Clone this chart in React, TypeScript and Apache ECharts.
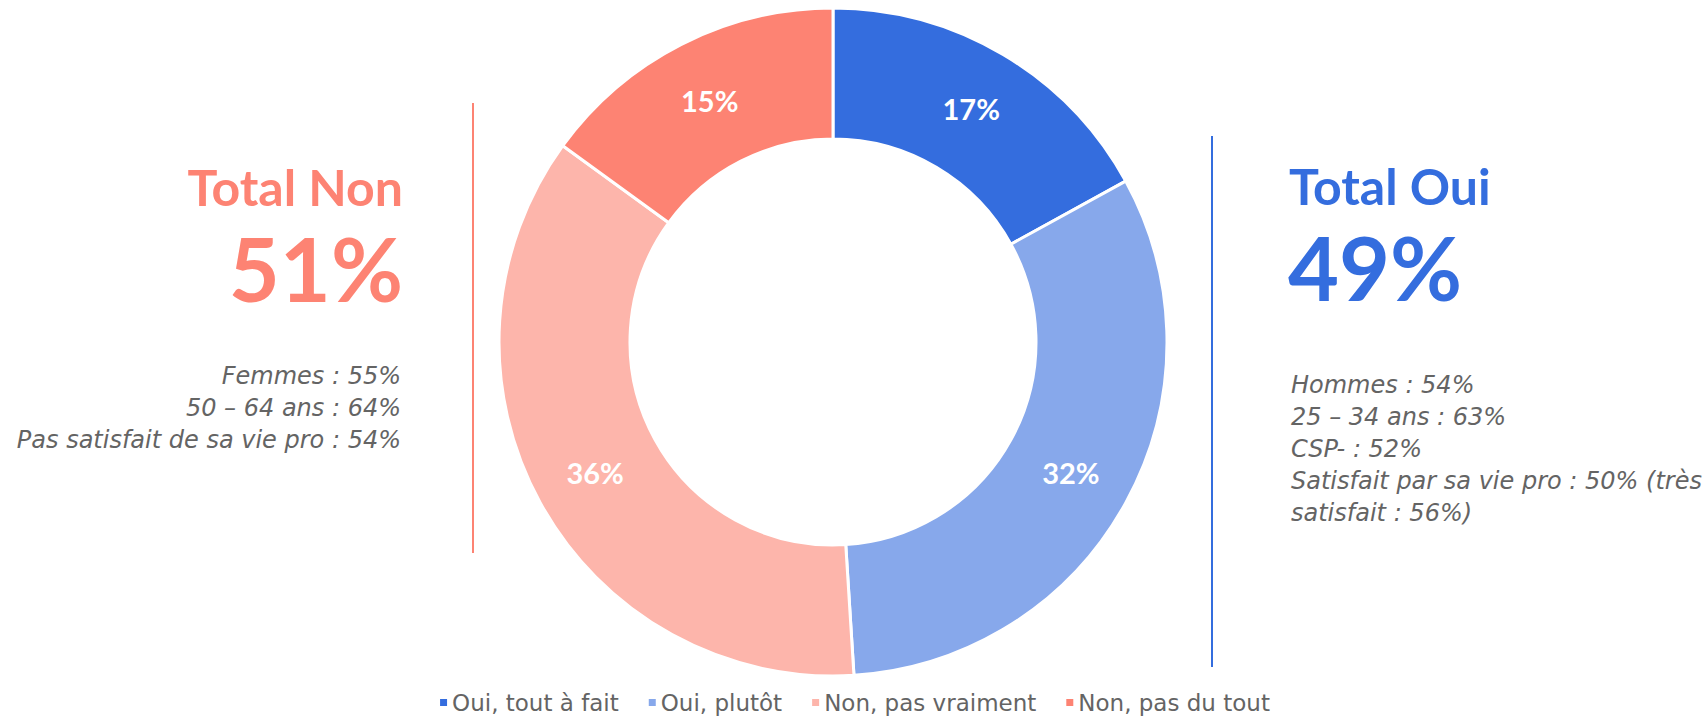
import React, { useEffect, useRef } from "react";
import * as echarts from "echarts";

const categories = ["Oui, tout à fait", "Oui, plutôt", "Non, pas vraiment", "Non, pas du tout"];
const values = [17, 32, 36, 15];
const colors = ["#346DDE", "#87A8EB", "#FDB5AB", "#FD8373"];

const totalNonTitle = "Total Non";
const totalNonValue = "51%";
const totalNonLines = ["Femmes : 55%", "50 – 64 ans : 64%", "Pas satisfait de sa vie pro : 54%"];

const totalOuiTitle = "Total Oui";
const totalOuiValue = "49%";
const totalOuiLines = [
  "Hommes : 54%",
  "25 – 34 ans : 63%",
  "CSP- : 52%",
  "Satisfait par sa vie pro : 50% (très",
  "satisfait : 56%)",
];

const SALMON = "#FD8373";
const BLUE = "#346DDE";
const GREY = "#646464";
const TITLE_FONT = "Lato, 'DejaVu Sans', sans-serif";
const BODY_FONT = "'DejaVu Sans', sans-serif";

export default function App() {
  const ref = useRef<HTMLDivElement>(null);
  useEffect(() => {
    document.body.style.margin = "0";
    const chart = echarts.init(ref.current!, null, { renderer: "svg" });
    const graphics: any[] = [];
    // left block
    graphics.push({
      type: "text",
      x: 403,
      y: 162,
      style: { text: totalNonTitle, fill: SALMON, font: `bold 50px ${TITLE_FONT}`, textAlign: "right" },
    });
    graphics.push({
      type: "text",
      x: 403,
      y: 224,
      style: { text: totalNonValue, fill: SALMON, font: `bold 88px ${TITLE_FONT}`, textAlign: "right" },
    });
    totalNonLines.forEach((t, i) => {
      graphics.push({
        type: "text",
        x: 401,
        y: 364 + i * 32,
        style: { text: t, fill: GREY, font: `italic 24px ${BODY_FONT}`, textAlign: "right" },
      });
    });
    graphics.push({
      type: "line",
      shape: { x1: 473, y1: 103, x2: 473, y2: 553 },
      style: { stroke: SALMON, lineWidth: 2 },
    });
    // right block
    graphics.push({
      type: "text",
      x: 1289,
      y: 161,
      style: { text: totalOuiTitle, fill: BLUE, font: `bold 50px ${TITLE_FONT}`, textAlign: "left" },
    });
    graphics.push({
      type: "text",
      x: 1288,
      y: 223,
      style: { text: totalOuiValue, fill: BLUE, font: `bold 88px ${TITLE_FONT}`, textAlign: "left" },
    });
    totalOuiLines.forEach((t, i) => {
      graphics.push({
        type: "text",
        x: 1291,
        y: 373 + i * 32,
        style: { text: t, fill: GREY, font: `italic 24px ${BODY_FONT}`, textAlign: "left" },
      });
    });
    graphics.push({
      type: "line",
      shape: { x1: 1212, y1: 136, x2: 1212, y2: 667 },
      style: { stroke: BLUE, lineWidth: 2 },
    });

    chart.setOption({
      animation: false,
      color: colors,
      legend: {
        data: categories,
        left: "center",
        top: 691,
        padding: 0,
        icon: "rect",
        itemWidth: 9,
        itemHeight: 9,
        itemGap: 28,
        textStyle: { color: GREY, fontSize: 23, fontFamily: BODY_FONT, padding: [0, 0, 0, -1] },
      },
      graphic: graphics,
      series: [
        {
          type: "pie",
          center: [833, 342],
          radius: [203, 334],
          startAngle: 90,
          clockwise: true,
          avoidLabelOverlap: false,
          itemStyle: { borderColor: "#ffffff", borderWidth: 3 },
          label: {
            show: true,
            position: "inside",
            formatter: "{c}%",
            color: "#ffffff",
            fontSize: 29,
            fontWeight: "bold",
            fontFamily: TITLE_FONT,
          },
          labelLine: { show: false },
          emphasis: { disabled: true },
          data: categories.map((name, i) => ({ name, value: values[i] })),
        },
      ],
    });
    return () => chart.dispose();
  }, []);
  return <div ref={ref} style={{ width: 1708, height: 718 }} />;
}
